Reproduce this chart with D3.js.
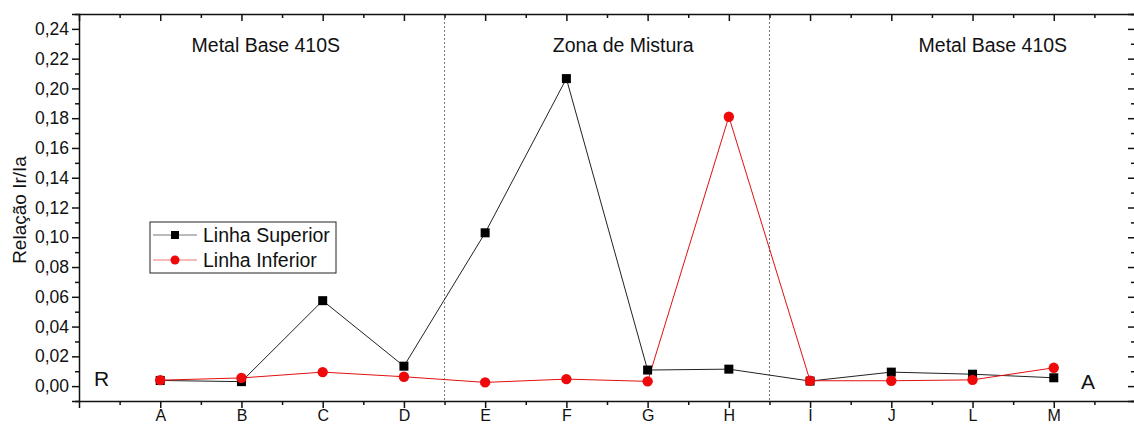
<!DOCTYPE html>
<html>
<head>
<meta charset="utf-8">
<script src="https://cdn.jsdelivr.net/npm/d3@7"></script>
<style>
	body { margin: 0; background: #fff; }
	svg text { font-family: "Liberation Sans", Arial, sans-serif; fill: #111; }
	.axis path, .axis line { stroke: #111; stroke-width: 1.5; }
	.axis text { font-size: 17.5px; }
	.axis.x text { font-size: 16px; }
</style>
</head>
<body>
<div id="chart"></div>
<script>
// categories along the x axis
const categories = ["A", "B", "C", "D", "E", "F", "G", "H", "I", "J", "L", "M"];

// Relação Ir/Ia per point
const superiorValues = [0.0038, 0.0030, 0.0574, 0.0134, 0.1030, 0.2066, 0.0108, 0.0114, 0.0034, 0.0094, 0.0080, 0.0056];
const inferiorValues = [0.0040, 0.0055, 0.0094, 0.0063, 0.0025, 0.0047, 0.0032, 0.1810, 0.0036, 0.0036, 0.0042, 0.0123];

const yTicks = [0, 0.02, 0.04, 0.06, 0.08, 0.10, 0.12, 0.14, 0.16, 0.18, 0.20, 0.22, 0.24];
const yMinorTicks = [-0.01, 0.01, 0.03, 0.05, 0.07, 0.09, 0.11, 0.13, 0.15, 0.17, 0.19, 0.21, 0.23, 0.25];

// region separators (between categories) and region titles
const separators = [4.5, 8.5];
const regions = [
	{ label: "Metal Base 410S", at: 2.3 },
	{ label: "Zona de Mistura", at: 6.7 },
	{ label: "Metal Base 410S", at: 11.25 }
];

const width = 1134, height = 427;
const margin = { top: 14, right: -1, bottom: 26, left: 79 };

const svg = d3.select("#chart").append("svg")
	.attr("width", width)
	.attr("height", height);

const xScale = d3.scaleLinear().domain([0, 13]).range([margin.left, width - margin.right]);
const yScale = d3.scaleLinear().domain([-0.01, 0.25]).range([height - margin.bottom, margin.top]);

const xMajor = d3.range(1, 13);
const xMinor = d3.range(0.5, 13, 1);
const fmt = d => d3.format(".2f")(d).replace(".", ",");

// dotted separators
svg.selectAll(".sep").data(separators).enter().append("line")
	.attr("class", "sep")
	.attr("x1", d => xScale(d)).attr("x2", d => xScale(d))
	.attr("y1", yScale(0.25)).attr("y2", yScale(-0.01))
	.attr("stroke", "#777").attr("stroke-width", 1).attr("stroke-dasharray", "2,2");

// bottom axis
const bottomAxis = svg.append("g").attr("class", "axis x")
	.attr("transform", "translate(0," + yScale(-0.01) + ")");
bottomAxis.call(d3.axisBottom(xScale).tickValues(xMajor).tickSize(7).tickPadding(2)
	.tickFormat(d => categories[d - 1]));
bottomAxis.append("g").call(d3.axisBottom(xScale).tickValues(xMinor).tickSize(4).tickFormat(""))
	.select(".domain").remove();

// top axis (inward ticks)
const topAxis = svg.append("g").attr("class", "axis")
	.attr("transform", "translate(0," + yScale(0.25) + ")");
topAxis.call(d3.axisTop(xScale).tickValues(xMajor).tickSize(-7).tickFormat(""));
topAxis.append("g").call(d3.axisTop(xScale).tickValues(xMinor).tickSize(-4).tickFormat(""))
	.select(".domain").remove();

// left axis
const leftAxis = svg.append("g").attr("class", "axis")
	.attr("transform", "translate(" + xScale(0) + ",0)");
leftAxis.call(d3.axisLeft(yScale).tickValues(yTicks).tickSize(7).tickPadding(3).tickFormat(fmt));
leftAxis.append("g").call(d3.axisLeft(yScale).tickValues(yMinorTicks).tickSize(4).tickFormat(""))
	.select(".domain").remove();

// right axis (inward ticks)
const rightAxis = svg.append("g").attr("class", "axis")
	.attr("transform", "translate(" + xScale(13) + ",0)");
rightAxis.call(d3.axisRight(yScale).tickValues(yTicks).tickSize(-7).tickFormat(""));
rightAxis.append("g").call(d3.axisRight(yScale).tickValues(yMinorTicks).tickSize(-4).tickFormat(""))
	.select(".domain").remove();

// axis title
svg.append("text")
	.attr("transform", "translate(26," + 210 + ") rotate(-90)")
	.attr("text-anchor", "middle")
	.style("font-size", "19px")
	.text("Relação Ir/Ia");

// region titles
svg.selectAll(".region").data(regions).enter().append("text")
	.attr("x", d => xScale(d.at))
	.attr("y", 52)
	.attr("text-anchor", "middle")
	.style("font-size", "19.5px")
	.text(d => d.label);

svg.append("text").attr("x", 94).attr("y", 386).style("font-size", "21px").text("R");
svg.append("text").attr("x", 1081).attr("y", 389).style("font-size", "21px").text("A");

// series
const line = d3.line()
	.x((d, i) => xScale(i + 1))
	.y(d => yScale(d));

svg.append("path").datum(superiorValues)
	.attr("fill", "none").attr("stroke", "#222").attr("stroke-width", 1)
	.attr("d", line);
svg.append("path").datum(inferiorValues)
	.attr("fill", "none").attr("stroke", "#e01010").attr("stroke-width", 1)
	.attr("d", line);

svg.selectAll(".sq").data(superiorValues).enter().append("rect")
	.attr("x", (d, i) => xScale(i + 1) - 4.5)
	.attr("y", d => yScale(d) - 4.5)
	.attr("width", 9).attr("height", 9)
	.attr("fill", "#000");
svg.selectAll(".dot").data(inferiorValues).enter().append("circle")
	.attr("cx", (d, i) => xScale(i + 1))
	.attr("cy", d => yScale(d))
	.attr("r", 5.2)
	.attr("fill", "#ee0a0a");

// legend
const legend = svg.append("g").attr("transform", "translate(150,222)");
legend.append("rect").attr("width", 186).attr("height", 51)
	.attr("fill", "#fff").attr("stroke", "#222").attr("stroke-width", 1);
const entries = [
	{ label: "Linha Superior", stroke: "#777", fill: "#000", shape: "square" },
	{ label: "Linha Inferior", stroke: "#e77", fill: "#ee0a0a", shape: "circle" }
];
entries.forEach((e, i) => {
	const cy = 13 + i * 25;
	legend.append("line").attr("x1", 3).attr("x2", 47).attr("y1", cy).attr("y2", cy)
		.attr("stroke", e.stroke).attr("stroke-width", 1);
	if (e.shape === "square") {
		legend.append("rect").attr("x", 25 - 4).attr("y", cy - 4).attr("width", 8).attr("height", 8).attr("fill", e.fill);
	} else {
		legend.append("circle").attr("cx", 25).attr("cy", cy).attr("r", 4.5).attr("fill", e.fill);
	}
	legend.append("text").attr("x", 53).attr("y", cy + 7)
		.style("font-size", "19.5px").text(e.label);
});
</script>
</body>
</html>
